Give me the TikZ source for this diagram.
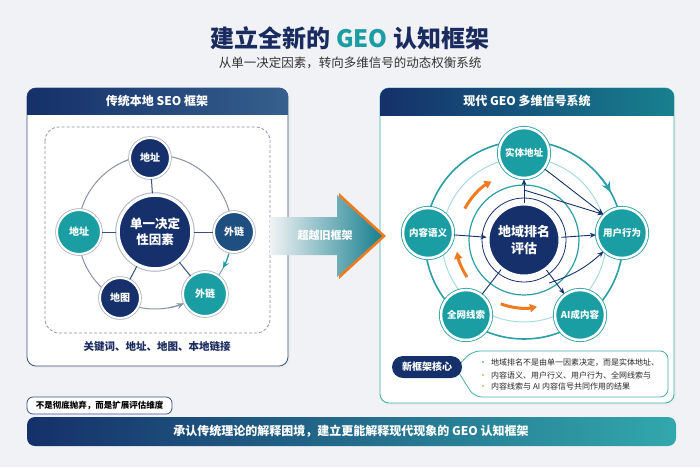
\documentclass[tikz,border=0pt]{standalone}
\usepackage{fontspec}
\setmainfont{Noto Sans CJK SC}
\usetikzlibrary{positioning,arrows.meta}
\definecolor{bgc}{HTML}{F1F2F5}
\definecolor{navy}{HTML}{15306A}
\definecolor{titlenavy}{HTML}{1A2B60}
\definecolor{midblue}{HTML}{1F4E80}
\definecolor{tealc}{HTML}{1B9EA3}
\definecolor{tealdk}{HTML}{17808F}
\definecolor{tealln}{HTML}{2A9FA6}
\definecolor{lightteal}{HTML}{A9DCDC}
\definecolor{ringgrey}{HTML}{8A93A6}
\definecolor{orangec}{HTML}{F07A1E}
\definecolor{lborder}{HTML}{3A4F86}
\definecolor{rborder}{HTML}{46AEB0}
\tikzset{%
hub/.style={circle,fill=#1,draw=white,line width=3.5pt,minimum size=74pt,inner sep=0pt,
  text=white,align=center,font=\bfseries\fontsize{12.5}{16}\selectfont},
sat/.style={circle,fill=#1,draw=white,line width=2pt,minimum size=40pt,inner sep=0pt,
  text=white,font=\bfseries\fontsize{10}{12}\selectfont,
  preaction={draw=ringgrey!70,line width=3.6pt}},
rsat/.style={circle,fill=tealc,draw=white,line width=2.5pt,minimum size=50pt,inner sep=0pt,
  text=white,font=\bfseries\fontsize{9.5}{12}\selectfont,
  preaction={draw=tealln,line width=4.2pt}},
spoke/.style={draw=navy!85,line width=1pt},
link/.style={draw=navy,line width=0.9pt,-{Stealth[length=6pt,width=5pt]}},
flow/.style={draw=orangec,line width=3pt,-{Triangle[length=7pt,width=8pt]}},
headtext/.style={text=white,font=\bfseries\fontsize{12}{14}\selectfont},
bullet/.style={anchor=west,inner xsep=0pt,inner ysep=2pt,text=black!85,font=\fontsize{8}{10}\selectfont}
}

\begin{document}
\begin{tikzpicture}[x=1pt,y=-1pt]

    % page
    \fill[bgc] (0,0) rectangle (700,467);
    \useasboundingbox (0,0) rectangle (700,467);

    \node[font=\bfseries\fontsize{24}{28}\selectfont,text=titlenavy] (title) at (350,38)
        {建立全新的 \textcolor{tealc}{GEO} 认知框架};
    \node[font=\fontsize{12.5}{15}\selectfont,text=black!80] (subtitle) at (350,63)
        {从单一决定因素，转向多维信号的动态权衡系统};

    % left panel
    \fill[black!7,rounded corners=9pt] (28,90) rectangle (290,368);
    \filldraw[fill=white,draw=lborder,line width=0.8pt,rounded corners=9pt] (27,88) rectangle (288,366);
    \begin{scope}
      \clip[rounded corners=9pt] (27,88) rectangle (288,366);
      \shade[left color=navy,right color=midblue!90] (27,88) rectangle (288,114);
    \end{scope}
    \node[headtext] (lhead) at (157,101) {传统本地 SEO 框架};
    \draw[ringgrey,line width=0.8pt,dash pattern=on 3pt off 2pt,rounded corners=14pt]
        (45,127) rectangle (270,333);

    \coordinate (lo) at (155,232);
    \draw[ringgrey,line width=1pt] (lo) circle[radius=77pt];
    \draw[ringgrey,line width=1pt,-{Stealth[length=7pt,width=6pt]}]
        ([shift={(114:77pt)}]lo) arc[start angle=114,end angle=103,radius=77pt];
    \draw[ringgrey,line width=1pt,-{Stealth[length=7pt,width=6pt]}]
        ([shift={(-80:77pt)}]lo) arc[start angle=-80,end angle=-68,radius=77pt];
    \draw[tealc,line width=1pt,-{Stealth[length=7pt,width=6pt]}]
        ([shift={(-17:77pt)}]lo) arc[start angle=-17,end angle=-28,radius=77pt];

    \node[hub=navy,preaction={draw=ringgrey!70,line width=5.5pt}] (lc) at (lo) {单一决定\\性因素};
    \node[sat=navy] (l1) at (150,158) {地址};
    \node[sat=midblue] (l2) at (234,232) {外链};
    \node[sat=tealc,minimum size=44pt] (l3) at (205,294) {外链};
    \node[sat=navy] (l4) at (120,298) {地图};
    \node[sat=tealc,minimum size=44pt] (l5) at (79,232) {地址};

    \foreach \s in {l1,l2,l3,l4,l5}
      \draw[spoke] (lc) -- (\s);

    \node[font=\bfseries\fontsize{10.5}{12}\selectfont,text=titlenavy] (lkeys) at (157,347)
        {关键词、地址、地图、本地链接};

    % right panel
    \fill[black!7,rounded corners=9pt] (381,90) rectangle (676,405);
    \filldraw[fill=white,draw=rborder,line width=0.9pt,rounded corners=9pt] (380,88) rectangle (674,403);
    \begin{scope}
      \clip[rounded corners=9pt] (380,88) rectangle (674,403);
      \shade[left color=navy,right color=tealdk] (380,88) rectangle (674,115);
    \end{scope}
    \node[headtext] (rhead) at (527,101) {现代 GEO 多维信号系统};

    \coordinate (ro) at (524,240);
    \draw[tealln,line width=1.6pt] (ro) circle[radius=99pt];
    \draw[lightteal,line width=1pt] (ro) circle[radius=82pt];
    \draw[tealln,line width=1.2pt] (ro) circle[radius=55pt];
    \draw[navy,line width=0.8pt] (ro) circle[radius=42pt];
    \draw[tealln,line width=1.6pt,-{Stealth[length=10pt,width=9pt]}]
        ([shift={(40:99pt)}]ro) arc[start angle=40,end angle=29,radius=99pt];

    \draw[flow] ([shift={(152:67pt)}]ro) arc[start angle=152,end angle=119,radius=67pt];
    \draw[flow] ([shift={(213:68pt)}]ro) arc[start angle=213,end angle=190,radius=68pt];
    \draw[flow] ([shift={(250:68pt)}]ro) arc[start angle=250,end angle=281,radius=68pt];

    \node[hub=navy,line width=3pt,minimum size=72pt,font=\bfseries\fontsize{13}{17}\selectfont] (rc) at (ro) {地域排名\\评估};
    \node[rsat] (sa) at (524,153) {实体地址};
    \node[rsat] (sb) at (622,233) {用户行为};
    \node[rsat] (sc) at (580,315) {AI成内容};
    \node[rsat] (sd) at (466,315) {全网线索};
    \node[rsat] (se) at (428,233) {内容语义};

    \coordinate (ja) at (524,190);
    \coordinate (jb) at (549,283);
    \draw[link] (rc) -- (sa);
    \draw[link] (rc) -- (sb);
    \draw[link] (se) -- (rc);
    \draw[link] (rc) -- (sc);
    \draw[link,-] (sd) -- (rc);
    \draw[link] (sa) -- (sb.north west);
    \draw[link] (ja) -- (sb.north west);
    \draw[link] (jb) to[bend right=12] (sb.south west);

    % core note
    \filldraw[fill=white,draw=rborder,line width=0.8pt,rounded corners=8pt]
        (472,351) -- (668,351) -- (668,397) -- (474,397) -- (456,368) -- cycle;
    \node[fill=navy,rounded corners=11pt,minimum width=70pt,minimum height=22pt,
          text=white,font=\bfseries\fontsize{10}{12}\selectfont] (core) at (427,367) {新框架核心};
    \node[bullet] (b1) at (479,363) {\textcolor{tealc}{•}\hspace{4pt}地域排名不是由单一因素决定，而是实体地址、};
    \node[bullet] (b2) [below=0pt of b1.south west,anchor=north west] {\textcolor{orangec}{•}\hspace{4pt}内容语义、用户行义、用户行为、全网线索与};
    \node[bullet] (b3) [below=0pt of b2.south west,anchor=north west] {\textcolor{orangec}{•}\hspace{4pt}内容线索与 AI 内容信号共同作用的结果};

    % jump arrow
    \fill[orangec] (339,193) -- (386,236) -- (339,279) -- cycle;
    \shade[left color=bgc,right color=tealdk]
        (270,217) -- (337,217) -- (337,195) -- (382,236) -- (337,277) -- (337,255) -- (270,255) -- cycle;
    \node[text=white,font=\bfseries\fontsize{11}{13}\selectfont] (jump) at (325,235) {超越旧框架};

    % bottom
    \node[draw=lborder,line width=0.8pt,fill=white,rounded corners=6pt,minimum width=145pt,
          minimum height=17pt,inner sep=2pt,font=\bfseries\fontsize{8.5}{10}\selectfont] (keep) at (99.5,405.5)
        {不是彻底抛弃，而是扩展评估维度};
    \shade[left color=navy,right color=tealc!90,rounded corners=8pt] (27,417) rectangle (676,446);
    \node[text=white,font=\bfseries\fontsize{12}{14}\selectfont] (banner) at (351,431.5)
        {承认传统理论的解释困境，建立更能解释现代现象的 GEO 认知框架};

\end{tikzpicture}
\end{document}
